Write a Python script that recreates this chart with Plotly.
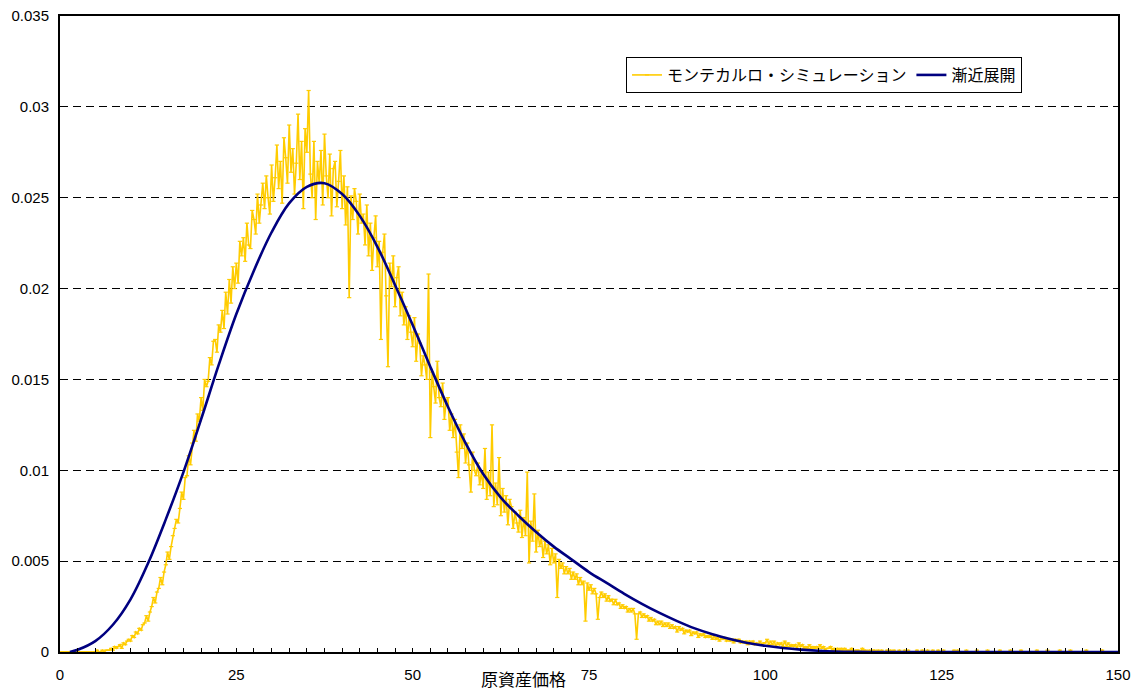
import plotly.graph_objects as go

# ---------------- data ----------------
# Monte Carlo histogram density (units of 1e-4), sampled every 0.25 starting at 0
mc_start = 0.0
mc_step = 0.25
mc_density_1e4 = [
    0,0,0,0, 0,0,0,0, 0,0,0,0, 0,0,0,0, 0,0,0,0,          # 0-4
    0,1,0,0, 1,0,1,1, 1,2,1,3, 2,3,4,2, 5,4,6,7,          # 5-9
    6,9,8,11, 10,13,12,15, 16,20,17,22, 25,30,27,33, 35,41,37,44,   # 10-14
    48,55,51,58, 64,68,73,71, 79,88,84,96, 97,108,103,115, 122,116,131,127,   # 15-19
    140,133,150,146, 149,162,158,171, 172,165,180,176, 188,178,198,186, 205,192,212,200,  # 20-24
    214,203,226,218, 228,215,236,224, 222,243,238,230, 252,236,246,258, 244,262,250,241,  # 25-29
    268,248,261,279, 255,270,247,283, 272,258,290,264, 277,252,269,296, 260,281,244,288,  # 30-34
    275,309,263,250, 281,238,270,258, 276,246,285,262, 250,274,240,266, 270,245,259,276,  # 35-39
    244,262,235,256, 195,251,238,255, 248,230,252,236, 241,224,246,218, 236,210,228,240,  # 40-44
    212,226,172,220, 230,196,157,214, 201,218,190,206, 212,185,198,180, 190,172,185,176,  # 45-49
    168,184,160,175, 170,152,163,158, 150,208,118,154, 146,137,160,140, 135,148,128,138,  # 50-54
    140,122,131,118, 128,110,96,125, 112,120,104,115, 103,88,110,100, 97,104,92,99,       # 55-59
    90,112,84,99, 86,125,80,93, 81,107,75,90, 77,86,70,84, 80,68,77,71,                   # 60-64
    66,78,63,74, 64,99,49,72, 61,87,55,67, 58,63,52,61, 54,59,48,57,                      # 65-69
    49,54,30,51, 46,49,43,47, 43,46,40,44, 40,43,37,41, 37,39,17,38,                      # 70-74
    34,37,32,35, 32,18,30,33, 30,32,28,31, 28,29,26,29, 26,27,24,26,                      # 75-79
    24,25,22,24, 22,24,21,7, 21,22,19,21, 19,20,17,19, 17,18,15,17,                       # 80-84
    15,17,14,16, 14,16,13,15, 13,14,11,14, 12,13,10,12, 11,12,9,11,                       # 85-89
    10,11,8,10, 9,10,8,9, 8,9,7,9, 7,8,6,8, 7,8,6,7,                                      # 90-94
    6,7,5,7, 6,7,5,6, 5,6,4,6, 5,6,4,5, 4,6,4,5,                                          # 95-99
    5,7,4,6, 4,6,3,5, 4,5,3,6, 3,5,3,4, 3,4,2,5,                                          # 100-104
    3,4,2,3, 2,4,2,3, 2,3,2,4, 2,3,1,2, 2,3,1,2,                                          # 105-109
    1,2,1,2, 1,2,1,1, 1,2,0,1, 1,1,0,2, 1,1,0,1,                                          # 110-114
    0,1,1,0, 1,0,1,0, 0,1,0,1, 0,1,0,0, 1,0,0,1,                                          # 115-119
    0,1,0,0, 0,0,1,0, 0,1,0,0, 1,0,0,1, 0,0,1,0,                                          # 120-124
    0,1,0,0, 0,0,0,1, 0,1,0,0, 0,0,1,0, 0,0,0,0,                                          # 125-129
    1,0,0,0, 0,0,1,0, 0,0,0,0, 0,1,0,0, 0,0,0,1,                                          # 130-134
    0,0,0,0, 0,1,0,0, 0,0,0,0, 0,0,1,0, 0,0,0,0,                                          # 135-139
    1,0,0,0, 0,0,0,1, 0,0,0,0, 0,1,0,0, 0,0,0,0,                                          # 140-144
    0,0,1,0, 0,0,0,0, 0,0,0,1, 0,0,0,0, 0,0,0,0,                                          # 145-149
    0,                                                                                    # 150
]
mc_density = [v * 1e-4 for v in mc_density_1e4]

# Asymptotic expansion curve
asym_x = [1.4, 2.5, 5, 7.5, 10, 12.5, 15, 17.5, 20, 22.5, 25, 27.5, 30, 32.5, 35,
          37.5, 40, 42.5, 45, 47.5, 50, 52.5, 55, 57.5, 60, 62.5, 65, 67.5,
          70, 72.5, 75, 77.5, 80, 82.5, 85, 87.5, 90, 92.5, 95, 97.5, 100, 102.5,
          105, 107.5, 110, 112.5, 115, 120, 130, 140, 150]
asym_y = [0, 0.00012, 0.0006, 0.0015, 0.0029, 0.0049, 0.0073, 0.0099, 0.0128,
          0.0158, 0.0186, 0.0210, 0.0231, 0.0247, 0.0256, 0.0258, 0.0252,
          0.0240, 0.0223, 0.0202, 0.0180, 0.0157, 0.0135, 0.0115, 0.0098, 0.0085,
          0.0075, 0.0066, 0.0058, 0.0051, 0.0044, 0.0038, 0.0032, 0.00265, 0.00215,
          0.0017, 0.0013, 0.00098, 0.00072, 0.0005, 0.00034, 0.00022, 0.00013,
          0.00007, 0.00003, 0.00001, 0, 0, 0, 0, 0]

series_names = ["モンテカルロ・シミュレーション", "漸近展開"]
x_title = "原資産価格"
x_tick_step = 25
x_minor_step = 2.5
y_tick_step = 0.005

FONT = "Liberation Sans, Noto Sans CJK JP, sans-serif"
JFONT = "Noto Sans CJK JP, sans-serif"

fig = go.Figure()
fig.add_trace(go.Scatter(
    x0=mc_start, dx=mc_step, y=mc_density, mode="lines+markers",
    name=series_names[0],
    line=dict(color="#FFCC00", width=1.6),
    marker=dict(symbol="line-ew-open", size=3, color="#FFCC00",
                line=dict(color="#FFCC00", width=1.2)),
))
fig.add_trace(go.Scatter(
    x=asym_x, y=asym_y, mode="lines", name=series_names[1],
    line=dict(color="#000080", width=2.6, shape="spline"),
))

fig.update_layout(
    width=1141, height=690,
    margin=dict(l=60, r=23, t=16, b=38),
    paper_bgcolor="white", plot_bgcolor="white",
    font=dict(family=FONT, size=15, color="black"),
    showlegend=True,
    legend=dict(
        orientation="h", x=0.535, y=0.9355, xanchor="left", yanchor="top",
        bgcolor="white", bordercolor="black", borderwidth=1,
        font=dict(family=JFONT, size=16), itemwidth=30,
        tracegroupgap=0,
    ),
    annotations=[dict(
        text=x_title, xref="paper", yref="paper", x=0.438, y=-0.041,
        xanchor="center", yanchor="middle", showarrow=False,
        font=dict(family=JFONT, size=17),
    )],
)
fig.update_xaxes(
    range=[0, 150], tickmode="linear", tick0=0, dtick=x_tick_step,
    ticks="inside", ticklen=4, tickcolor="black", tickwidth=1,
    minor=dict(dtick=x_minor_step, ticks="inside", ticklen=4, tickcolor="black"),
    showline=True, linecolor="black", linewidth=2, mirror=True,
    showgrid=False, zeroline=False, ticklabelstandoff=8, automargin=False,
)
fig.update_yaxes(
    range=[0, 0.035], tickmode="linear", tick0=0, dtick=y_tick_step,
    ticks="", showline=True, linecolor="black", linewidth=2, mirror=True,
    showgrid=True, gridcolor="black", gridwidth=1, griddash="8px,5px",
    zeroline=False, ticklabelstandoff=6, automargin=False,
)

fig.write_html(
    "out.html",
    config={"displayModeBar": False},
    post_script="document.body.style.margin='0';document.body.style.overflow='hidden';",
)
